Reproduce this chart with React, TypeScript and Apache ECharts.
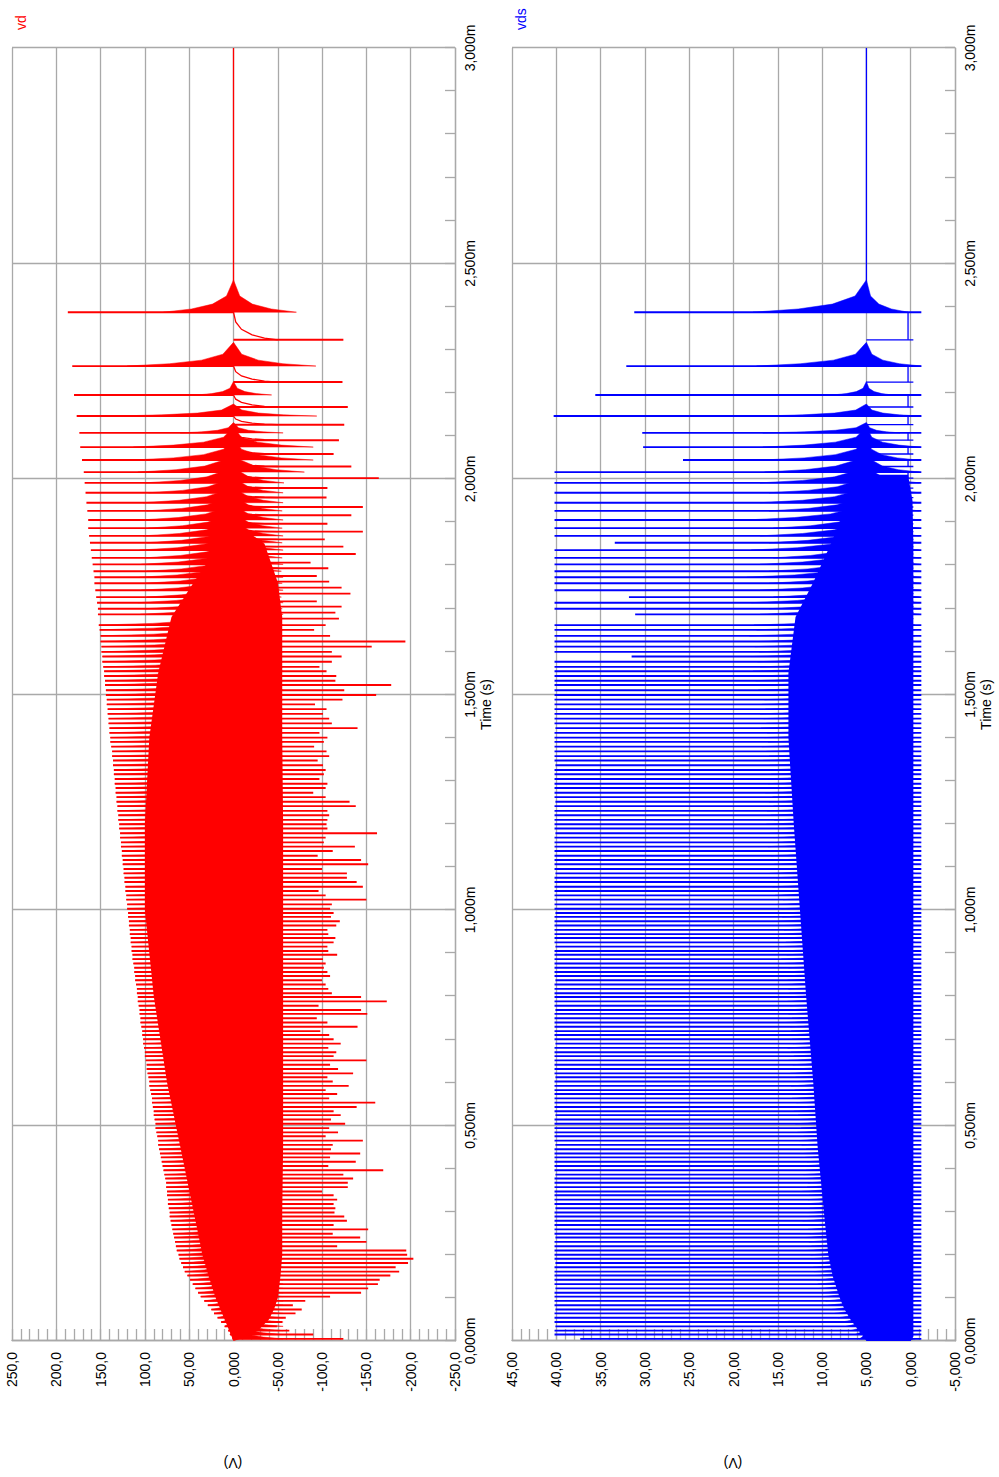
import React, { useEffect, useRef } from "react";
import * as echarts from "echarts";

// ---------- DATA (time in µs; axis shows ms with "m") ----------
// Switch-off (rising) events
const riseT = [
  5, 15, 24, 34, 44, 54, 64, 73, 83, 93,
  103, 112, 122, 132, 142, 152, 161, 171, 181, 191,
  200, 210, 220, 230, 240, 249, 259, 269, 279, 289,
  298, 308, 318, 328, 338, 347, 357, 367, 377, 386,
  396, 406, 416, 426, 435, 445, 455, 465, 475, 484,
  494, 504, 514, 524, 533, 543, 553, 563, 573, 582,
  592, 602, 612, 621, 631, 641, 651, 661, 670, 680,
  690, 700, 710, 719, 729, 739, 749, 759, 768, 778,
  788, 798, 807, 817, 827, 837, 847, 856, 866, 876,
  886, 896, 905, 915, 925, 935, 944, 954, 964, 974,
  984, 993,
  1003, 1013, 1024, 1034, 1044, 1054, 1065, 1075, 1085, 1095,
  1106, 1116, 1126, 1137, 1147, 1157, 1168, 1178, 1189, 1199,
  1209, 1220, 1230, 1241, 1251, 1262, 1272, 1283, 1293, 1304,
  1315, 1325, 1336, 1347, 1357, 1368, 1379, 1390, 1400, 1411,
  1422, 1433, 1444, 1455, 1466, 1477, 1488,
  1499, 1510, 1522, 1532, 1543, 1554, 1564, 1576, 1588, 1599, 1611, 1623, 1636, 1650, 1661,
  1686, 1699, 1713, 1726, 1742, 1758, 1772, 1786, 1802, 1817,
  1835, 1852, 1868, 1886, 1905, 1926, 1945, 1968, 1991, 2016,
  2044, 2074, 2107, 2146, 2195, 2262, 2387,
];

// vd positive peaks at each rise
const vdPeak = [
  1, 4, 6, 10, 14, 18, 22, 25, 29, 33,
  37, 40, 43, 46, 49, 52, 55, 57, 59, 61,
  62, 64, 65, 66, 67, 68, 69, 70, 71, 72,
  72, 73, 74, 74, 75, 75, 76, 76, 77, 78,
  79, 80, 81, 82, 83, 84, 85, 85, 86, 87,
  88, 88, 89, 90, 90, 91, 92, 92, 93, 94,
  95, 95, 96, 97, 98, 98, 99, 100, 100, 101,
  102, 102, 103, 103, 104, 105, 105, 106, 106, 107,
  108, 108, 109, 109, 110, 111, 111, 112, 112, 113,
  114, 114, 115, 115, 116, 116, 117, 117, 118, 118,
  119, 119,
  120, 120, 121, 121, 122, 122, 123, 123, 124, 124,
  125, 125, 126, 126, 127, 127, 128, 128, 129, 129,
  130, 130, 131, 131, 132, 132, 133, 133, 134, 134,
  135, 135, 136, 136, 137, 137, 138, 139, 139, 140,
  140, 141, 141, 142, 142, 143, 143,
  144, 144, 145, 145, 146, 146, 147, 148, 148, 149, 149, 150, 150, 151, 152,
  153, 153, 154, 155, 156, 157, 157, 158, 159, 160,
  161, 162, 163, 164, 164, 165, 166, 167, 168, 169,
  171, 173, 174, 177, 180, 182, 187,
];

// vds peaks at each rise
const vdsPeak = [
  37.3, 40.2, 40.2, 40.1, 40.2, 40.2, 40.2, 40.1, 40.2, 40.2,
  40.2, 40.2, 40.1, 40.2, 40.2, 40.2, 40.2, 40.2, 40.1, 40.2,
  40.2, 40.2, 40.2, 40.2, 40.1, 40.2, 40.2, 40.2, 40.2, 40.2,
  40.2, 40.1, 40.2, 40.2, 40.2, 40.2, 40.2, 40.2, 40.2, 40.1,
  40.2, 40.2, 40.2, 40.2, 40.2, 40.2, 40.1, 40.2, 40.2, 40.2,
  40.2, 40.2, 40.2, 40.1, 40.2, 40.2, 40.2, 40.2, 40.2, 40.2,
  40.2, 40.2, 40.1, 40.2, 40.2, 40.2, 40.2, 40.2, 40.2, 40.2,
  40.1, 40.2, 40.2, 40.2, 40.2, 40.2, 40.2, 40.2, 40.1, 40.2,
  40.2, 40.2, 40.2, 40.2, 40.2, 40.1, 40.2, 40.2, 40.2, 40.2,
  40.2, 40.2, 40.2, 40.1, 40.2, 40.2, 40.2, 40.2, 40.2, 40.2,
  40.2, 40.1, 40.2, 40.2, 40.2, 40.2, 40.2, 40.2, 40.2, 40.2,
  40.1, 40.2, 40.2, 40.2, 40.2, 40.2, 40.2, 40.2, 40.2, 40.1,
  40.2, 40.2, 40.2, 40.2, 40.2, 40.2, 40.1, 40.2, 40.2, 40.2,
  40.2, 40.2, 40.2, 40.2, 40.1, 40.2, 40.2, 40.2, 40.2, 40.2,
  40.2, 40.2, 40.1, 40.2, 40.2, 40.2, 40.2, 40.2, 40.2, 40.2,
  40.2, 40.2, 40.2, 40.2, 40.2, 40.2, 40.2, 31.5, 40.2, 40.2,
  40.2, 40.2, 40.2, 40.2, 31.1, 40.2, 40.2, 31.8, 40.2, 40.2,
  40.2, 40.2, 40.2, 40.2, 40.2, 33.4, 40.2, 40.2, 40.2, 40.2,
  40.2, 40.2, 40.2, 40.2, 25.7, 30.2, 30.3, 40.3, 35.6, 32.1,
  31.2,
];

// Switch-on (falling) events: dense part coincides with the rises
const fallT = riseT.slice(0, 164).concat([
  1676, 1690, 1704, 1716, 1734, 1748, 1762, 1775, 1793, 1806,
  1826, 1843, 1860, 1878, 1896, 1916, 1935, 1957, 1979, 2002,
  2029, 2058, 2090, 2126, 2167, 2225, 2323,
]);

// vd negative extremes at each fall
const vdDip = [
  -124, -90, -63, -49, -55, -59, -70, -77, -67, -81,
  -109, -144, -152, -163, -165, -177, -187, -183, -197, -203,
  -196, -195, -117, -150, -143, -112, -152, -113, -128, -125,
  -114, -115, -113, -117, -113, -100, -129, -129, -135, -124,
  -169, -107, -138, -109, -143, -110,
  -112, -146, -104, -118, -108, -126, -110, -121, -113, -139,
  -160, -108, -117, -104, -130, -112, -106, -135, -118, -109,
  -150, -113, -116,
  -107, -121, -113, -108, -98, -140, -106, -94, -151, -144,
  -96, -173, -144, -111, -107, -104, -100, -109, -106, -102,
  -104, -101, -117, -107, -106, -113, -115, -107, -106, -116,
  -120, -110, -113,
  -109, -111, -150, -104, -96, -146, -139, -128, -128, -100,
  -152, -144, -95, -112,
  -137, -102, -104, -162, -106, -105, -106, -108, -106, -138,
  -131, -104, -90, -104, -106, -97, -102, -104, -101, -95,
  -108, -105, -91, -102, -106, -97, -140, -111, -108, -101,
  -105, -92, -123,
  -161, -125, -178, -115, -116, -105, -97, -111, -122, -111, -156, -194, -109, -91, -104,
  -119, -115, -122, -94, -132, -122, -108, -94, -107, -87,
  -138, -124, -103, -146, -106, -133, -146, -105, -106, -164,
  -133, -113, -119, -125, -129, -123, -124,
];

// Solid ringing core where the pulses overlap
const vdCoreT = [0, 10, 25, 50, 75, 100, 150, 200, 300, 450, 600, 800, 1000, 1200, 1400, 1550, 1680, 1760, 1850, 1900];
const vdCoreHi = [0, 2, 5, 10, 15, 20, 28, 35, 45, 60, 75, 90, 100, 100, 95, 85, 70, 45, 15, 0];
const vdCoreLo = [0, -15, -28, -40, -46, -50, -53, -55, -55, -56, -56, -56, -56, -56, -55, -55, -55, -50, -35, 0];
const vdsCoreT = [0, 10, 25, 50, 75, 100, 150, 200, 300, 450, 600, 800, 1000, 1200, 1400, 1550, 1680, 1760, 1850, 1950, 2010];
const vdsCoreHi = [5, 5.3, 5.9, 6.8, 7.5, 8, 8.8, 9.3, 9.8, 10.5, 11, 11.8, 12.5, 13.2, 13.8, 13.8, 13, 11, 9, 7, 5];
const vdsCoreLo = [0, -0.3, -0.3, -0.3, -0.3, -0.3, -0.3, -0.3, -0.3, -0.3, -0.3, -0.3, -0.3, -0.3, -0.3, -0.3, -0.3, -0.3, -0.3, -0.2, 0.3];

// Ringing bursts of the dense pulses (vd bursts start at the peak)
const denseT = riseT.slice(0, 164);
const vdDenseRingHi = vdPeak.slice(0, 164);
const vdDenseRingLo = -56;
const denseRingLen = 40;
const vdsDenseRingHi = [
  5.8, 6.3, 6.8, 7.3, 7.8, 8.2, 8.6, 9.0, 9.3, 9.6,
  9.9, 10.1, 10.3, 10.5, 10.6, 10.8, 10.9, 11.0, 11.1, 11.2,
  11.3, 11.8, 11.2, 11.5, 12.0, 11.4, 11.6, 11.3, 12.2, 11.5,
  11.7, 11.4, 12.0, 11.6, 11.5, 12.3, 11.7, 11.6, 11.9, 12.1,
  11.8, 12.4, 11.7, 11.9, 12.2, 11.8,
  12.3, 12.6, 12.1, 12.8, 12.4, 13.0, 12.5, 12.7, 13.2, 12.6,
  12.9, 13.4, 12.8, 13.1, 13.5, 12.9, 13.0, 13.6, 13.1, 13.3,
  13.8, 13.2, 13.5, 13.9, 13.3, 13.4, 14.0, 13.5, 13.6, 14.2,
  13.4, 13.8, 14.1, 13.6, 13.9, 14.3, 13.7, 13.8, 14.5, 13.9,
  14.1, 14.4, 13.8, 14.2, 14.6, 14.0, 14.3, 14.7, 14.1, 14.2,
  14.8, 14.3, 14.4, 14.9, 14.5, 14.4,
  14.6, 15.1, 14.4, 15.3, 14.8, 15.6, 14.7, 15.2, 15.9, 14.9,
  15.4, 15.0, 15.8, 15.2, 16.1, 15.1, 15.5, 15.9, 15.3, 16.3,
  15.4, 15.8, 16.2, 15.5, 16.0, 15.6, 16.4, 15.7, 16.1, 16.6,
  15.8, 16.2, 15.9, 16.7, 16.0, 16.3, 16.8, 16.1, 16.5, 16.2,
  16.9, 16.3, 16.6, 17.0, 16.4, 16.8, 16.5,
  16.8, 17.2, 16.6, 17.5, 16.9, 17.8, 17.0, 17.3, 18.0, 17.1, 17.6, 17.2, 18.2, 17.4, 17.7,
];
const vdsDenseRingLo = -0.5;

// Separate ringing bursts of the late, sparse pulses
const ringT = riseT.slice(164);
const vdRingHi = [105, 100, 108, 98, 104, 100, 106, 98, 104, 100, 106, 98, 102, 96, 104, 98, 102, 96, 100, 108, 113, 113, 60, 135, 41, 120, 79];
const vdRingLo = [-56, -55, -56, -54, -56, -55, -56, -54, -56, -55, -56, -55, -56, -55, -56, -55, -56, -56, -57, -80, -90, -90, -56, -94, -43, -93, -71];
const ringLen = [50, 50, 52, 52, 52, 54, 54, 54, 54, 56, 56, 56, 56, 56, 56, 56, 56, 56, 56, 56, 50, 46, 24, 28, 31, 55, 75];
const vdsRingHi = [17, 16, 18, 15.5, 17, 16, 18.5, 16, 17, 15.5, 18, 16, 17, 15.5, 18.5, 16, 17, 16, 17, 16.5, 16.7, 16.7, 16.7, 17, 8.8, 17.4, 17.8];
const vdsRingLo = [-1, -1, -1, -1, -1, -1, -1, -1, -1, -1, -1, -1, -1, -1, -1, -1, -1, -1, -1, -1, -0.8, -1.1, 1.2, -1.2, 2.1, -1.2, 0.3];

// Recovery after late switch-on events
const recFallT = fallT.slice(164);
const recRiseT = riseT.slice(164);
const vdRecoveryStart = -50;
const vdsOnLevel = 0.3;

// Levels
const vdRest = 0;
const vdsRest = 5;
const vdsUndershoot = -1.2;
const vdsFallLow = -0.3;
const settleT = [2387, 3000];

// Axis ticks
const timeMin = 0, timeMax = 3000, timeStep = 500;
const vdMin = -250, vdMax = 250, vdStep = 50;
const vdsMin = -5, vdsMax = 45, vdsStep = 5;

// ---------- STYLE ----------
const FONT = "'Liberation Sans', Arial, Helvetica, sans-serif";
const GRID = "#a9a9a9";
const RED = "#ff0000";
const BLUE = "#0000ff";
const SPIKE_W = 1.9;

const timeLabel = (v: number) => (v / 1000).toFixed(3).replace(".", ",") + "m";
const voltLabel = (v: number) => Number(v).toPrecision(4).replace(".", ",");

const pick = (v: number | number[], i: number) => (Array.isArray(v) ? v[i] : v);

function spikeSeries(g: number, times: number[], lows: number | number[], highs: number | number[], color: string, w: number) {
  return {
    type: "custom",
    xAxisIndex: g,
    yAxisIndex: g,
    silent: true,
    data: times.map((t, i) => [t, pick(lows, i), pick(highs, i)]),
    renderItem: (_p: any, api: any) => {
      const a = api.coord([api.value(0), api.value(1)]);
      const b = api.coord([api.value(0), api.value(2)]);
      return { type: "line", shape: { x1: a[0], y1: a[1], x2: b[0], y2: b[1] }, style: { stroke: color, lineWidth: w } };
    },
  };
}

function bandSeries(g: number, ts: number[], his: number[], los: number[], color: string) {
  return {
    type: "custom",
    xAxisIndex: g,
    yAxisIndex: g,
    silent: true,
    data: [[ts[0], his[0], los[0]]],
    renderItem: (_p: any, api: any) => {
      const top = ts.map((t, i) => api.coord([t, his[i]]));
      const bot = ts.map((t, i) => api.coord([t, los[i]])).reverse();
      return { type: "polygon", shape: { points: top.concat(bot) }, style: { fill: color } };
    },
  };
}

// decaying-envelope outline of one ringing burst (fraction of time, fraction of amplitude)
const WEDGE = [[0, 1], [0.1, 0.6], [0.25, 0.3], [0.5, 0.1], [1, 0]];
function wedgeSeries(g: number, ts: number[], his: number | number[], los: number | number[], lens: number | number[], center: number, color: string) {
  return {
    type: "custom",
    xAxisIndex: g,
    yAxisIndex: g,
    silent: true,
    data: ts.map((t, i) => [t, pick(his, i), pick(los, i), pick(lens, i)]),
    renderItem: (_p: any, api: any) => {
      const t = api.value(0), hi = api.value(1), lo = api.value(2), L = api.value(3);
      const pts: number[][] = [];
      WEDGE.forEach(([ft, fa]) => pts.push(api.coord([t + ft * L, center + fa * (hi - center)])));
      WEDGE.slice().reverse().forEach(([ft, fa]) => pts.push(api.coord([t + ft * L, center + fa * (lo - center)])));
      return { type: "polygon", shape: { points: pts }, style: { fill: color, stroke: color, lineWidth: 0.5 } };
    },
  };
}

const CURVE = [[0, 1], [0.06, 0.7], [0.18, 0.42], [0.38, 0.18], [0.65, 0.05], [1, 0]];
function recoverySeries(g: number, t0: number[], t1: number[], from: number, to: number, color: string, w: number) {
  return {
    type: "custom",
    xAxisIndex: g,
    yAxisIndex: g,
    silent: true,
    data: t0.map((t, i) => [t, t1[i]]),
    renderItem: (_p: any, api: any) => {
      const a = api.value(0), b = api.value(1);
      const pts = CURVE.map(([f, k]) => api.coord([a + f * (b - a), to + k * (from - to)]));
      return { type: "polyline", shape: { points: pts }, style: { stroke: color, fill: "none", lineWidth: w } };
    },
  };
}

function flatSeries(g: number, t0: number[], t1: number[], level: number, color: string, w: number) {
  return recoverySeries(g, t0, t1, level, level, color, w);
}

function xAxisFor(g: number) {
  return {
    type: "value",
    gridIndex: g,
    min: timeMin,
    max: timeMax,
    interval: timeStep,
    name: "Time (s)",
    nameLocation: "middle",
    nameGap: 24,
    nameTextStyle: { color: "#000", fontSize: 14, fontFamily: FONT, padding: [0, 20, 0, 0] },
    axisLine: { show: true, onZero: false, lineStyle: { color: GRID, width: 1.3 } },
    axisTick: { show: true, inside: true, length: 10, lineStyle: { color: GRID, width: 1.3 } },
    minorTick: { show: true, splitNumber: 5, length: 10, lineStyle: { color: GRID, width: 1.3 } },
    axisLabel: { formatter: timeLabel, color: "#000", fontSize: 14, margin: 8, fontFamily: FONT },
    splitLine: { show: true, lineStyle: { color: GRID, width: 1.3 } },
  };
}

function yAxisFor(g: number, min: number, max: number, step: number) {
  return {
    type: "value",
    gridIndex: g,
    min,
    max,
    interval: step,
    axisLine: { show: true, onZero: false, lineStyle: { color: GRID, width: 1.3 } },
    axisTick: { show: true, inside: true, length: 12, lineStyle: { color: GRID, width: 1.3 } },
    minorTick: { show: true, splitNumber: 5, length: 12, lineStyle: { color: GRID, width: 1.3 } },
    axisLabel: { formatter: voltLabel, color: "#000", fontSize: 14, margin: 11, fontFamily: FONT },
    splitLine: { show: true, lineStyle: { color: GRID, width: 1.3 } },
  };
}

const option = {
  animation: false,
  backgroundColor: "#ffffff",
  textStyle: { fontFamily: FONT },
  grid: [
    { left: 136, right: 48, top: 12, height: 443 },
    { left: 136, right: 48, top: 512, height: 443 },
  ],
  xAxis: [xAxisFor(0), xAxisFor(1)],
  yAxis: [yAxisFor(0, vdMin, vdMax, vdStep), yAxisFor(1, vdsMin, vdsMax, vdsStep)],
  graphic: [
    { type: "text", x: 1447, y: 14, style: { text: "vd", fill: RED, font: `14px ${FONT}`, align: "left", verticalAlign: "top" } },
    { type: "text", x: 1447, y: 514, style: { text: "vds", fill: BLUE, font: `14px ${FONT}`, align: "left", verticalAlign: "top" } },
    { type: "text", x: 14, y: 233, rotation: Math.PI / 2, style: { text: "(V)", fill: "#000", font: `14px ${FONT}`, align: "center", verticalAlign: "middle" } },
    { type: "text", x: 14, y: 733, rotation: Math.PI / 2, style: { text: "(V)", fill: "#000", font: `14px ${FONT}`, align: "center", verticalAlign: "middle" } },
  ],
  series: [
    // vd
    bandSeries(0, vdCoreT, vdCoreHi, vdCoreLo, RED),
    wedgeSeries(0, denseT, vdDenseRingHi, vdDenseRingLo, denseRingLen, vdRest, RED),
    wedgeSeries(0, ringT, vdRingHi, vdRingLo, ringLen, vdRest, RED),
    recoverySeries(0, recFallT, recRiseT, vdRecoveryStart, vdRest, RED, 1.3),
    flatSeries(0, [settleT[0]], [settleT[1]], vdRest, RED, 1.3),
    spikeSeries(0, fallT, vdRest, vdDip, RED, SPIKE_W),
    spikeSeries(0, riseT, vdRest, vdPeak, RED, SPIKE_W),
    // vds
    bandSeries(1, vdsCoreT, vdsCoreHi, vdsCoreLo, BLUE),
    wedgeSeries(1, denseT, vdsDenseRingHi, vdsDenseRingLo, denseRingLen, vdsRest, BLUE),
    wedgeSeries(1, ringT, vdsRingHi, vdsRingLo, ringLen, vdsRest, BLUE),
    flatSeries(1, recFallT, recRiseT, vdsOnLevel, BLUE, 1.3),
    flatSeries(1, [settleT[0]], [settleT[1]], vdsRest, BLUE, 1.3),
    spikeSeries(1, fallT, vdsRest, vdsFallLow, BLUE, 1.3),
    spikeSeries(1, riseT, vdsUndershoot, vdsPeak, BLUE, SPIKE_W),
  ],
};

export default function App() {
  const ref = useRef<HTMLDivElement>(null);
  useEffect(() => {
    if (!ref.current) return;
    const chart = echarts.init(ref.current, undefined, { renderer: "svg", width: 1477, height: 999 });
    chart.setOption(option as any);
    return () => chart.dispose();
  }, []);
  return (
    <div style={{ position: "absolute", left: 0, top: 0, width: 999, height: 1477, overflow: "hidden", background: "#fff" }}>
      <div
        ref={ref}
        style={{
          position: "absolute",
          left: 0,
          top: 0,
          width: 1477,
          height: 999,
          transformOrigin: "0 0",
          transform: "translate(0px, 1477px) rotate(-90deg)",
        }}
      />
    </div>
  );
}
